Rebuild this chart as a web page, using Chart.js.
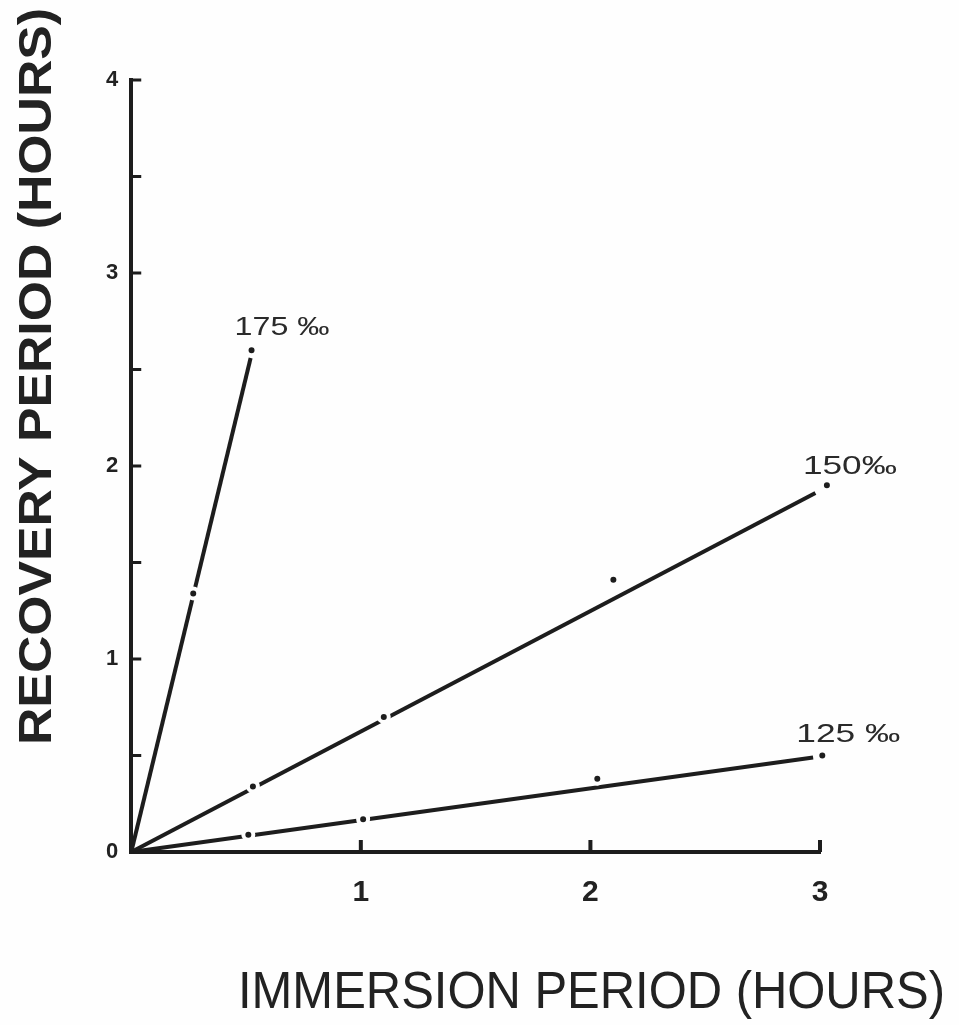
<!DOCTYPE html>
<html>
<head>
<meta charset="utf-8">
<script src="https://cdn.jsdelivr.net/npm/chart.js@4.4.1/dist/chart.umd.min.js"></script>
<style>
  html, body { margin: 0; padding: 0; background: #fefefe; }
  #wrap { width: 959px; height: 1025px; position: relative; }
</style>
</head>
<body>
<div id="wrap"><canvas id="c"></canvas></div>
<script>
// Measured points, immersion period (h) vs recovery period (h), per salinity
const salinities = ['175 ‰', '150‰', '125 ‰'];
const immersion175 = [0.27, 0.524];
const recovery175  = [1.34, 2.60];
const immersion150 = [0.53, 1.10, 2.10, 3.03];
const recovery150  = [0.34, 0.70, 1.41, 1.90];
const immersion125 = [0.51, 1.01, 2.03, 3.01];
const recovery125  = [0.09, 0.17, 0.38, 0.50];

// Fitted lines through the origin: [start, end]
const fitX175 = [0, 0.52];  const fitY175 = [0, 2.56];
const fitX150 = [0, 2.98];  const fitY150 = [0, 1.86];
const fitX125 = [0, 2.97];  const fitY125 = [0, 0.49];

// Axis ticks
const xTickValues = [1, 2, 3];
const yTickValues = [0.5, 1, 1.5, 2, 2.5, 3, 3.5, 4];

const INK = '#1d1d1d';

function pts(xs, ys) { return xs.map((x, i) => ({ x, y: ys[i] })); }

function fitLine(xs, ys) {
  return {
    type: 'line', data: pts(xs, ys), order: 2,
    borderColor: INK, borderWidth: 4, pointRadius: 0, clip: false,
    borderCapStyle: 'butt'
  };
}
function dots(xs, ys) {
  return {
    type: 'scatter', data: pts(xs, ys), order: 1, clip: false,
    pointRadius: 5, pointBorderWidth: 4,
    pointBackgroundColor: INK, pointBorderColor: '#fefefe'
  };
}

const bgPlugin = {
  id: 'bg',
  beforeDraw(chart) {
    const ctx = chart.ctx;
    ctx.save();
    ctx.fillStyle = '#fefefe';
    ctx.fillRect(0, 0, chart.width, chart.height);
    ctx.restore();
  }
};

// Inward tick marks, series labels and axis titles
const decorPlugin = {
  id: 'decor',
  afterDraw(chart) {
    const ctx = chart.ctx;
    const xs = chart.scales.x, ys = chart.scales.y;
    const a = chart.chartArea;
    ctx.save();
    ctx.strokeStyle = INK;
    ctx.lineCap = 'butt';
    ctx.lineWidth = 3;
    yTickValues.forEach(v => {
      const py = ys.getPixelForValue(v);
      ctx.beginPath(); ctx.moveTo(a.left, py); ctx.lineTo(a.left + 10, py); ctx.stroke();
    });
    ctx.lineWidth = 4;
    xTickValues.forEach(v => {
      const px = xs.getPixelForValue(v);
      ctx.beginPath(); ctx.moveTo(px, a.bottom); ctx.lineTo(px, a.bottom - 12); ctx.stroke();
    });

    // series labels near the last point of each series
    ctx.fillStyle = '#2a2a2a';
    ctx.textBaseline = 'alphabetic';
    ctx.textAlign = 'left';
    const ends = [
      [immersion175.at(-1), recovery175.at(-1), -17, -15, 95],
      [immersion150.at(-1), recovery150.at(-1), -24, -11, 94],
      [immersion125.at(-1), recovery125.at(-1), -26, -14, 104]
    ];
    ctx.font = '25px "Liberation Sans", Arial, sans-serif';
    salinities.forEach((s, i) => {
      const [vx, vy, dx, dy, w] = ends[i];
      const px = xs.getPixelForValue(vx) + dx;
      const py = ys.getPixelForValue(vy) + dy;
      const m = ctx.measureText(s).width;
      ctx.save();
      ctx.translate(px, py);
      ctx.scale(w / m, 1);
      ctx.fillText(s, 0, 0);
      ctx.restore();
    });

    // x axis title
    ctx.fillStyle = '#222';
    ctx.font = '51px "Liberation Sans", Arial, sans-serif';
    const xt = 'IMMERSION PERIOD (HOURS)';
    const xm = ctx.measureText(xt).width;
    ctx.save();
    ctx.translate(238, 1008);
    ctx.scale(707 / xm, 1);
    ctx.fillText(xt, 0, 0);
    ctx.restore();

    // y axis title
    ctx.font = 'bold 46px "Liberation Sans", Arial, sans-serif';
    const yt = 'RECOVERY PERIOD (HOURS)';
    const ym = ctx.measureText(yt).width;
    ctx.save();
    ctx.translate(51, 745);
    ctx.rotate(-Math.PI / 2);
    ctx.scale(737 / ym, 1);
    ctx.fillText(yt, 0, 0);
    ctx.restore();
    ctx.restore();
  }
};

new Chart(document.getElementById('c'), {
  data: {
    datasets: [
      fitLine(fitX175, fitY175),
      fitLine(fitX150, fitY150),
      fitLine(fitX125, fitY125),
      dots(immersion175, recovery175),
      dots(immersion150, recovery150),
      dots(immersion125, recovery125)
    ]
  },
  options: {
    responsive: true,
    maintainAspectRatio: false,
    animation: false,
    events: [],
    layout: { padding: { left: 93, right: 139, top: 80, bottom: 91 } },
    plugins: { legend: { display: false }, tooltip: { enabled: false } },
    scales: {
      x: {
        type: 'linear', min: 0, max: 3,
        afterBuildTicks: s => { s.ticks = [0].concat(xTickValues).map(v => ({ value: v })); },
        ticks: {
          callback: v => (v === 0 ? '' : String(v)),
          color: '#222', padding: 23,
          font: { family: '"Liberation Sans", Arial, sans-serif', size: 30, weight: 'bold' }
        },
        grid: { display: false, drawTicks: false },
        border: { display: true, width: 4, color: INK }
      },
      y: {
        type: 'linear', min: 0, max: 4,
        afterBuildTicks: s => { s.ticks = [0].concat(yTickValues).map(v => ({ value: v })); },
        ticks: {
          callback: v => (Number.isInteger(v) ? String(v) : ''),
          color: '#222', padding: 13,
          font: { family: '"Liberation Sans", Arial, sans-serif', size: 22, weight: 'bold' }
        },
        grid: { display: false, drawTicks: false },
        border: { display: true, width: 4, color: INK }
      }
    }
  },
  plugins: [bgPlugin, decorPlugin]
});
</script>
</body>
</html>
